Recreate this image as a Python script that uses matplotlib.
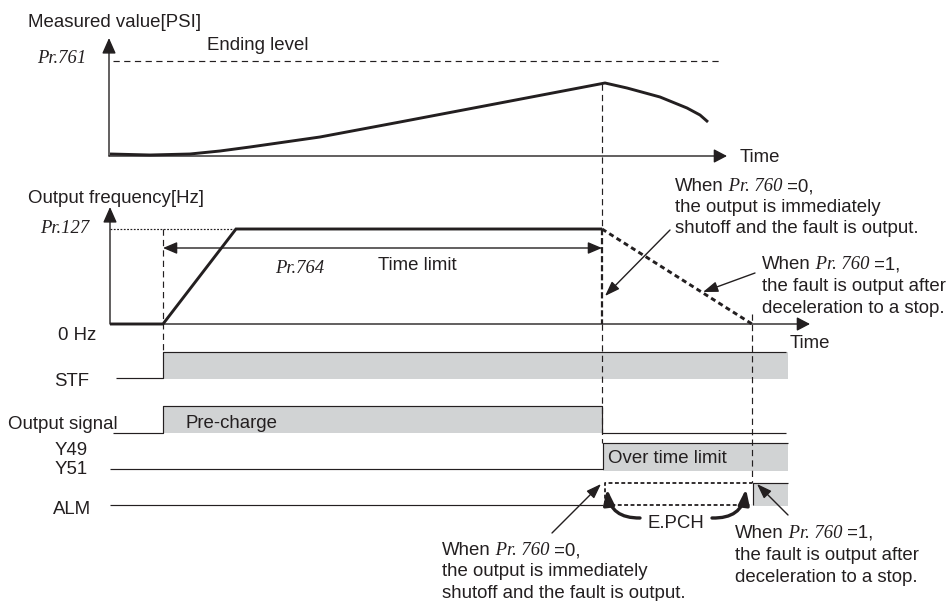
import matplotlib
matplotlib.use('Agg')
import matplotlib.pyplot as plt
from matplotlib.patches import Rectangle

plt.rcParams['lines.scale_dashes'] = False
plt.rcParams['lines.solid_capstyle'] = 'butt'

C = '#231f20'
G = '#d1d3d4'
SANS = 'Liberation Sans'
SERIF = 'Liberation Serif'
FS = 13.4

# ---------------- data (diagram units: x = time position, y = level position) -------------
t_axis = 110          # time origin (vertical axes)
t_stf = 163           # STF on / pre-charge start
t_reach = 236         # frequency reaches Pr.127
t_limit = 602         # Pr.764 time limit elapsed
t_stop = 752          # deceleration finished
t_end = 788           # end of drawn signals

# measured value curve
meas_t = [110, 150, 190, 220, 250, 320, 400, 500, 605, 627, 660, 687, 700, 708]
meas_y = [154, 155, 154, 151, 147, 137, 122, 103, 83, 88, 97, 108, 115, 122]
y_meas_base = 156
y_pr761 = 61

# output frequency
y_f0 = 324
y_pr127 = 229
freq_t = [110, t_stf, t_reach, t_limit]
freq_y = [y_f0, y_f0, y_pr127, y_pr127]
decel_t = [t_limit, t_stop]
decel_y = [y_pr127, y_f0]

# signals: low / high levels
sig_labels = ['STF', 'Output signal', 'Y49', 'Y51', 'ALM']
sig_low = [378, 433, 469, 505]
sig_high = [352, 406, 443, 483]

fig = plt.figure(figsize=(9.46, 6.01), dpi=100)
ax = fig.add_axes([0, 0, 1, 1])
ax.set_xlim(0, 946)
ax.set_ylim(601, 0)
ax.axis('off')
R = fig.canvas.get_renderer()


def txt(x, y, s, it=False, ha='left', size=FS):
    fam = SERIF if it else SANS
    return ax.text(x, y, s, ha=ha, va='baseline', color=C, size=size,
                   family=fam, style='italic' if it else 'normal')


def rich(x, y, parts):
    for s, it in parts:
        t = txt(x, y, s, it=it)
        x += t.get_window_extent(R).width


def arrow(tail, tip, hl=0.9, hw=0.3, lw=1.0, rad=0.0, style='-|>'):
    ax.annotate('', xy=tip, xytext=tail,
                arrowprops=dict(arrowstyle=f'{style},head_length={hl},head_width={hw}',
                                lw=lw, color=C, shrinkA=0, shrinkB=0,
                                mutation_scale=10,
                                connectionstyle=f'arc3,rad={rad}'))


thin = 0.85
thick = 2.1
dash = (0, (4.5, 3.0))

# ---------------- measured value panel ----------------
arrow((t_axis - 1, y_meas_base), (t_axis - 1, 38), hl=0.95, hw=0.42, lw=1.0)
arrow((t_axis - 1, y_meas_base), (727, y_meas_base), hl=0.8, hw=0.42, lw=1.0)
ax.plot([t_axis + 3, 720], [y_pr761, y_pr761], color=C, lw=thin, ls=(0, (4.5, 3.2)))
ax.plot(meas_t, meas_y, color=C, lw=thick, solid_joinstyle='round')
txt(28, 27, 'Measured value[PSI]')
txt(207, 50, 'Ending level')
txt(37, 63, 'Pr.761', it=True)
txt(740, 162, 'Time')

# ---------------- frequency panel ----------------
arrow((t_axis, y_f0), (t_axis, 207), hl=0.95, hw=0.42, lw=1.0)
arrow((t_stf, y_f0), (810, y_f0), hl=0.8, hw=0.42, lw=1.0)
ax.plot([t_axis, t_reach], [y_pr127, y_pr127], color=C, lw=thin, ls=(0, (1.3, 1.1)))
ax.plot(freq_t, freq_y, color=C, lw=thick, solid_joinstyle='miter')
ax.plot(decel_t, decel_y, color=C, lw=thick, ls=(0, (3.6, 2.6)))
ax.plot([t_limit, t_limit], [y_pr127, y_f0], color=C, lw=1.6, ls=(0, (4.5, 2.0)))
arrow((t_stf, 248), (t_limit, 248), hl=0.85, hw=0.36, lw=1.0, style='<|-|>')
txt(28, 203, 'Output frequency[Hz]')
txt(40, 233, 'Pr.127', it=True)
txt(58, 340, '0 Hz')
txt(275, 273, 'Pr.764', it=True)
txt(378, 270, 'Time limit')
txt(790, 348, 'Time')

# vertical dashed event lines
ax.plot([t_stf, t_stf], [y_pr127, sig_high[0]], color=C, lw=thin, ls=dash)
ax.plot([t_limit, t_limit], [84, y_pr127], color=C, lw=thin, ls=dash)
ax.plot([t_limit, t_limit], [y_f0, sig_high[2]], color=C, lw=thin, ls=dash)
ax.plot([t_stop, t_stop], [314, sig_high[3]], color=C, lw=thin, ls=dash)

# ---------------- signals ----------------
# STF
ax.add_patch(Rectangle((t_stf, sig_high[0]), t_end - t_stf, sig_low[0] - sig_high[0] + 1,
                       facecolor=G, edgecolor='none', zorder=0))
ax.plot([116, t_stf, t_stf, 786], [sig_low[0], sig_low[0], sig_high[0], sig_high[0]],
        color=C, lw=thin)
# Output signal (pre-charge)
ax.add_patch(Rectangle((t_stf, sig_high[1]), t_limit - t_stf, sig_low[1] - sig_high[1],
                       facecolor=G, edgecolor='none', zorder=0))
ax.plot([113, t_stf, t_stf, t_limit, t_limit, 786],
        [sig_low[1], sig_low[1], sig_high[1], sig_high[1], sig_low[1], sig_low[1]],
        color=C, lw=thin)
# Y49 / Y51
ax.add_patch(Rectangle((t_limit + 1, sig_high[2]), t_end - t_limit - 1, sig_low[2] - sig_high[2] + 2,
                       facecolor=G, edgecolor='none', zorder=0))
ax.plot([110, t_limit + 1, t_limit + 1, t_end],
        [sig_low[2], sig_low[2], sig_high[2], sig_high[2]], color=C, lw=thin)
# ALM
ax.add_patch(Rectangle((t_stop + 1, sig_high[3]), t_end - t_stop - 1, sig_low[3] - sig_high[3] + 1,
                       facecolor=G, edgecolor='none', zorder=0))
ax.plot([110, t_limit + 1], [sig_low[3], sig_low[3]], color=C, lw=thin)
ax.plot([t_limit + 3, t_limit + 3, t_stop], [sig_low[3], sig_high[3], sig_high[3]],
        color=C, lw=1.3, ls=(0, (2.8, 1.8)))
ax.plot([t_limit + 3, t_stop], [sig_low[3], sig_low[3]], color=C, lw=1.3, ls=(0, (2.8, 1.8)))
ax.plot([t_stop + 1, t_stop + 1, t_end], [sig_low[3], sig_high[3], sig_high[3]],
        color=C, lw=thin)

txt(54, 386, sig_labels[0])
txt(8, 429, sig_labels[1])
txt(55, 455, sig_labels[2])
txt(55, 474, sig_labels[3])
txt(53, 514, sig_labels[4])
txt(185, 428, 'Pre-charge')
txt(608, 463, 'Over time limit')
txt(647, 528, 'E.PCH')

# E.PCH curved arrows
arrow((640, 518), (607, 489), hl=0.9, hw=0.32, lw=2.4, rad=-0.45)
arrow((712, 518), (746, 489), hl=0.9, hw=0.32, lw=2.4, rad=0.45)

# ---------------- annotations ----------------
L0 = [[('When', False), (' Pr. 760', True), (' =0,', False)],
      [('the output is immediately', False)],
      [('shutoff and the fault is output.', False)]]
L1 = [[('When', False), (' Pr. 760', True), (' =1,', False)],
      [('the fault is output after', False)],
      [('deceleration to a stop.', False)]]

for i, line in enumerate(L0):
    rich(675, 191 + 21 * i, line)
for i, line in enumerate(L1):
    rich(762, 269 + 22 * i, line)
for i, line in enumerate(L0):
    rich(442, 555 + 21.5 * i, line)
for i, line in enumerate(L1):
    rich(735, 538 + 22 * i, line)

arrow((670, 230), (605, 296), hl=0.9, hw=0.32, lw=1.0)
arrow((755, 273), (703, 292), hl=0.9, hw=0.32, lw=1.0)
arrow((552, 533), (601, 484), hl=0.9, hw=0.32, lw=1.0)
arrow((788, 515), (757, 484), hl=0.9, hw=0.32, lw=1.0)

fig.savefig('out.png', dpi=100)
